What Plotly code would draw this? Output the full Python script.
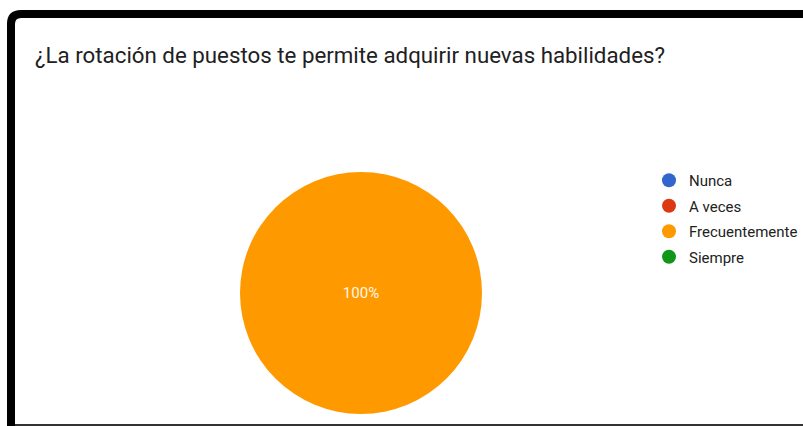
import plotly.graph_objects as go

# Survey answers and their share of responses
categories = ["Nunca", "A veces", "Frecuentemente", "Siempre"]
responses = [0, 0, 100, 0]
colors = ["#3366cc", "#dc3912", "#ff9900", "#109618"]
title_text = "¿La rotación de puestos te permite adquirir nuevas habilidades?"

W, H = 803, 426


def px(x):
    return x / W


def py(y):
    return 1 - y / H


fig = go.Figure()

fig.add_trace(go.Pie(
    labels=categories,
    values=responses,
    marker=dict(colors=colors, line=dict(width=0)),
    sort=False,
    direction="clockwise",
    textinfo="percent",
    textposition="inside",
    insidetextfont=dict(family="Roboto, Arial, sans-serif", size=15, color="#fff8e8"),
    showlegend=False,
    hoverinfo="label+percent",
    domain=dict(x=[px(240), px(482)], y=[py(414), py(172)]),
))

# Circular legend entries, one per answer
for i, (name, col) in enumerate(zip(categories, colors)):
    fig.add_trace(go.Scatter(
        x=[None], y=[None], mode="markers", name=name,
        legendgroup=name,
        marker=dict(symbol="circle", size=14, color=col),
    ))

# Frame around the card: thick black edge at top and left, thin line at bottom
r = 10
frame = (f"M {px(11)},{py(H)} L {px(11)},{py(14 + r)} "
         f"Q {px(11)},{py(14)} {px(11 + r)},{py(14)} L {px(W + 5)},{py(14)}")

fig.update_layout(
    width=W, height=H,
    margin=dict(l=0, r=0, t=0, b=0, autoexpand=False),
    paper_bgcolor="#ffffff",
    plot_bgcolor="#ffffff",
    xaxis=dict(visible=False),
    yaxis=dict(visible=False),
    title=dict(
        text=title_text,
        x=px(35), xanchor="left", xref="paper",
        y=py(55), yanchor="middle", yref="paper",
        font=dict(family="Roboto, Arial, sans-serif", size=22.3, color="#212121"),
    ),
    legend=dict(
        x=px(649), xanchor="left",
        y=py(164), yanchor="top",
        font=dict(family="Roboto, Arial, sans-serif", size=15, color="#222222"),
        tracegroupgap=3,
        bgcolor="rgba(0,0,0,0)",
        itemclick=False, itemdoubleclick=False,
    ),
    shapes=[
        dict(type="path", path=frame, xref="paper", yref="paper",
             line=dict(color="#000000", width=8)),
        dict(type="line", xref="paper", yref="paper",
             x0=px(15), x1=px(W), y0=py(425), y1=py(425),
             line=dict(color="#333333", width=2)),
    ],
)

fig.write_html("out.html")
